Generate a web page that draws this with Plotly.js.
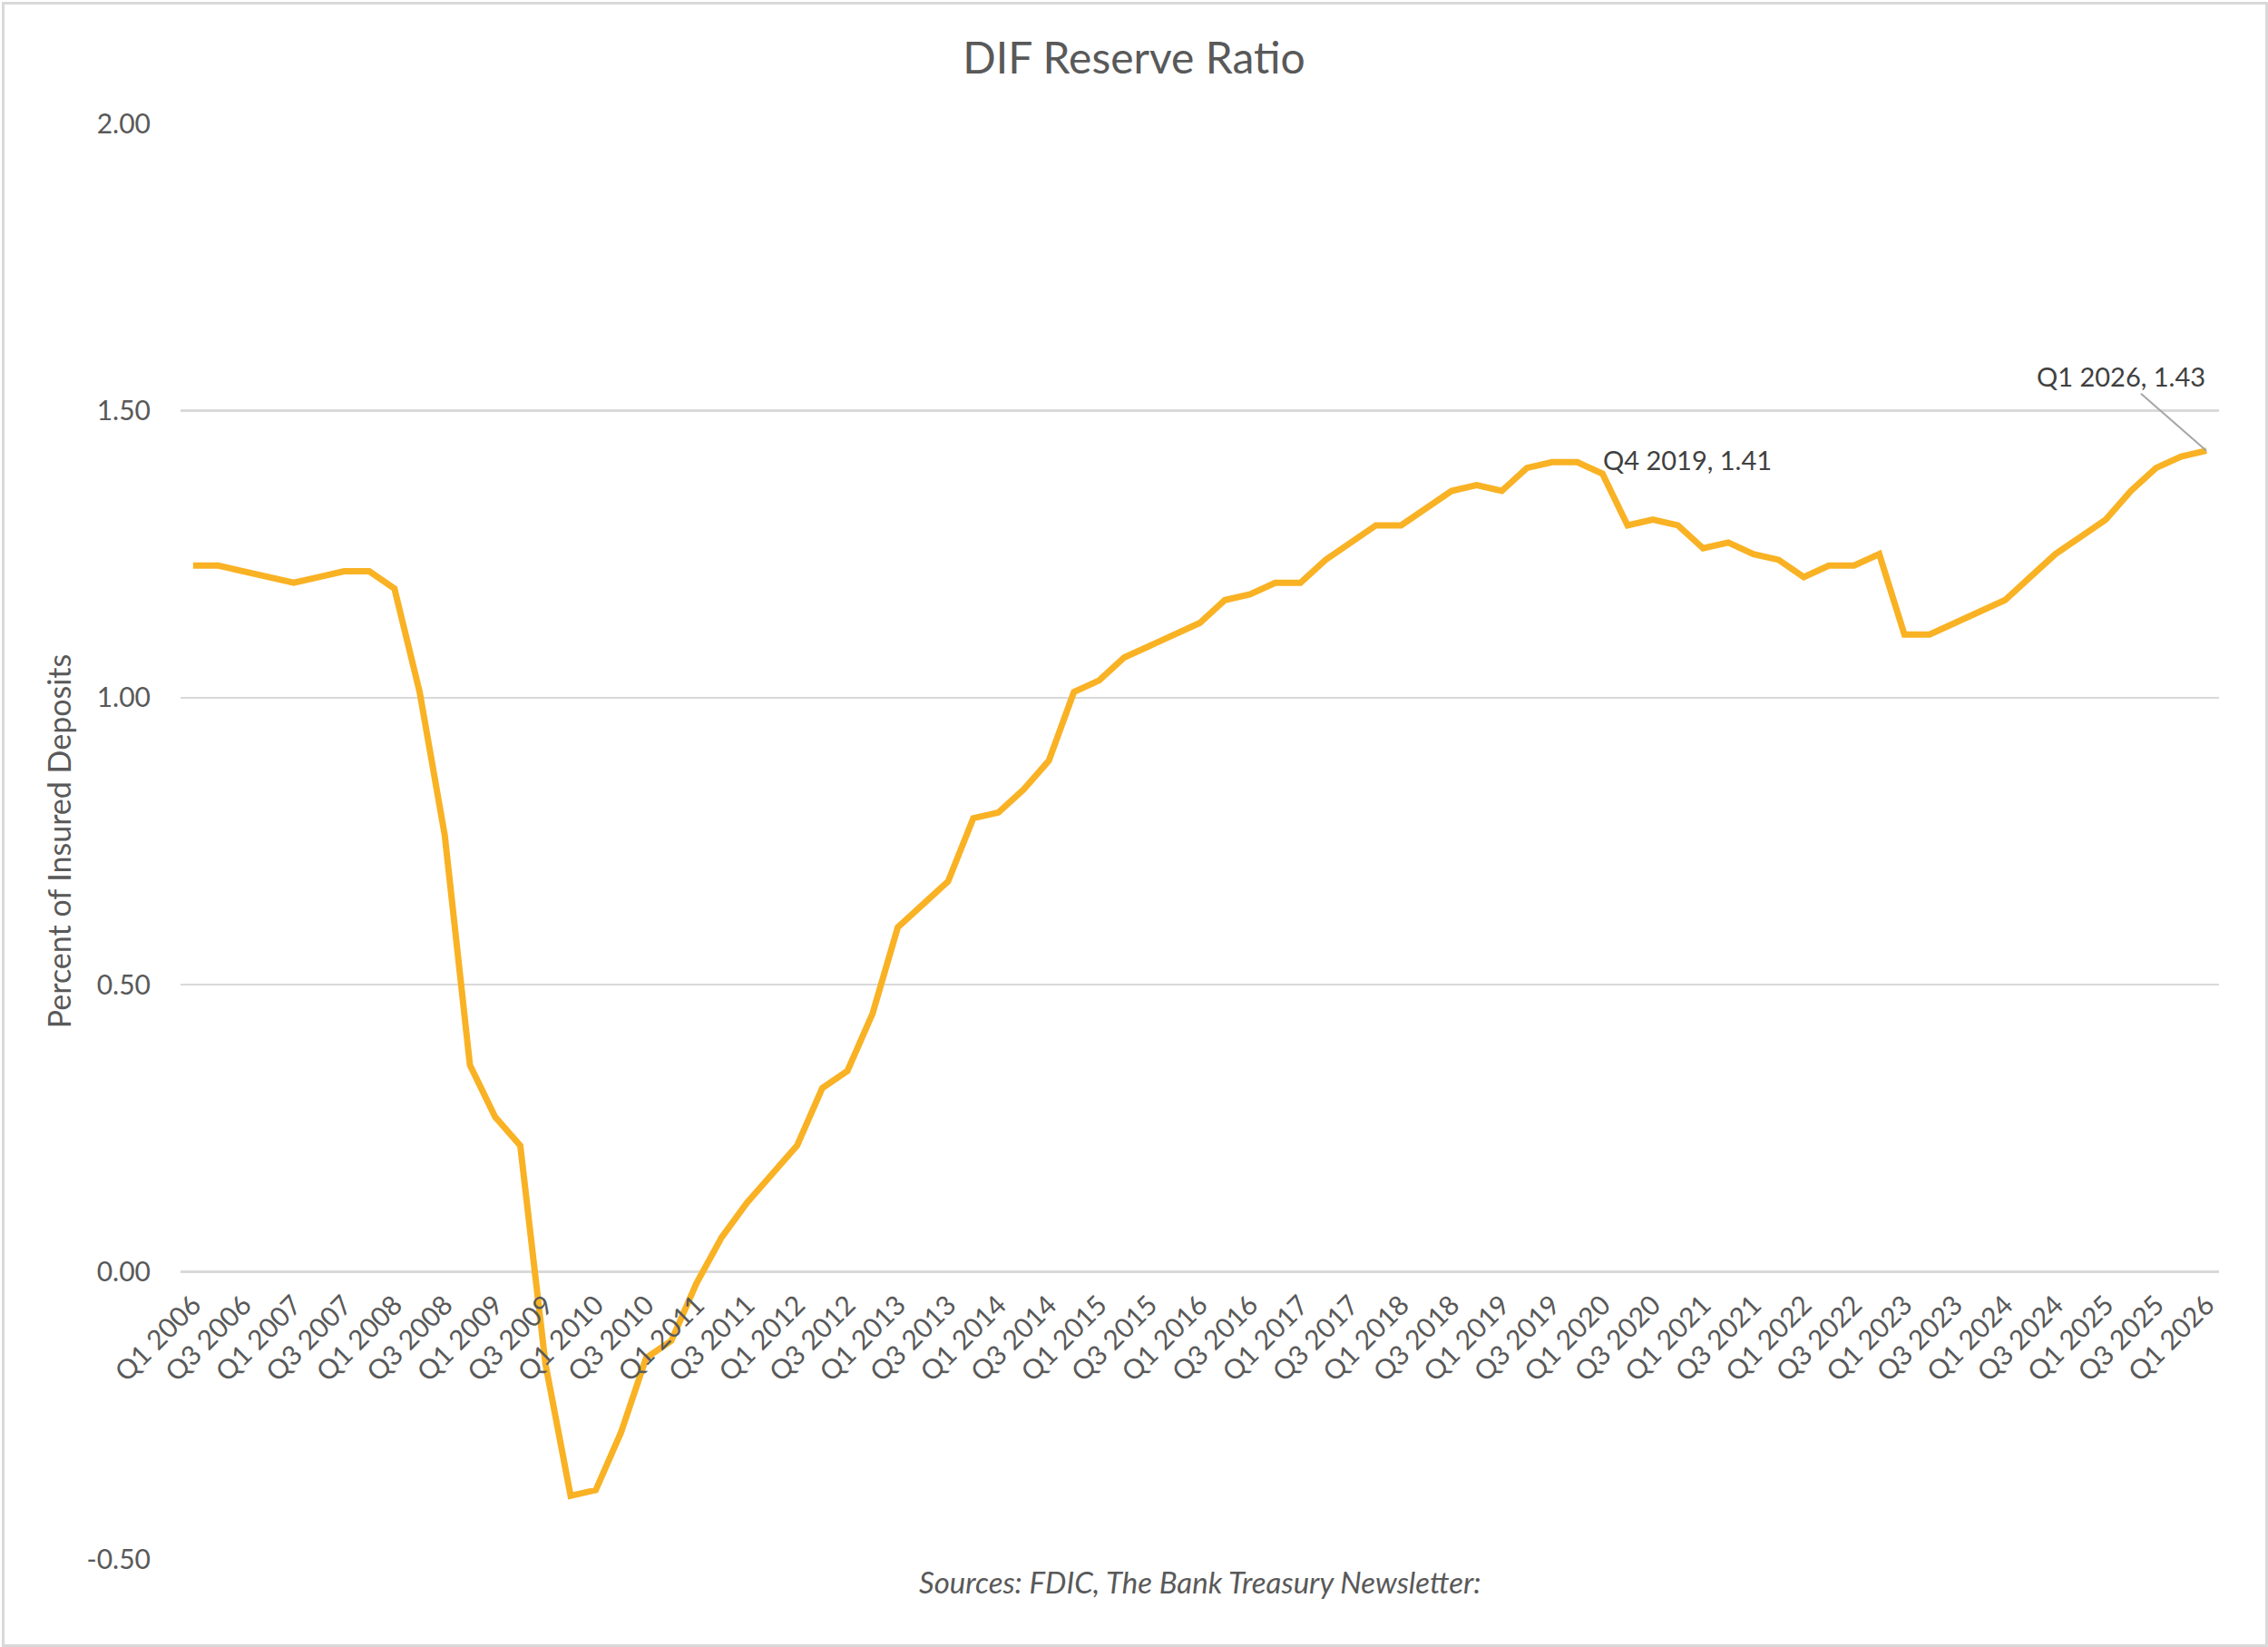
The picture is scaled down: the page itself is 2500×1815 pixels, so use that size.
<!DOCTYPE html>
<html>
<head>
<meta charset="utf-8">
<script src="https://cdn.plot.ly/plotly-3.0.1.min.js"></script>
<style>
  html, body { margin: 0; padding: 0; background: #ffffff; }
  #chart { width: 2500px; height: 1815px; }
  #frame { position: absolute; left: 2px; top: 2px; width: 2492px; height: 1807px;
           border: 3px solid #d9d9d9; pointer-events: none; }
</style>
</head>
<body>
<div id="chart"></div>
<div id="frame"></div>
<script>
const quarters = [
  "Q1 2006","Q2 2006","Q3 2006","Q4 2006",
  "Q1 2007","Q2 2007","Q3 2007","Q4 2007",
  "Q1 2008","Q2 2008","Q3 2008","Q4 2008",
  "Q1 2009","Q2 2009","Q3 2009","Q4 2009",
  "Q1 2010","Q2 2010","Q3 2010","Q4 2010",
  "Q1 2011","Q2 2011","Q3 2011","Q4 2011",
  "Q1 2012","Q2 2012","Q3 2012","Q4 2012",
  "Q1 2013","Q2 2013","Q3 2013","Q4 2013",
  "Q1 2014","Q2 2014","Q3 2014","Q4 2014",
  "Q1 2015","Q2 2015","Q3 2015","Q4 2015",
  "Q1 2016","Q2 2016","Q3 2016","Q4 2016",
  "Q1 2017","Q2 2017","Q3 2017","Q4 2017",
  "Q1 2018","Q2 2018","Q3 2018","Q4 2018",
  "Q1 2019","Q2 2019","Q3 2019","Q4 2019",
  "Q1 2020","Q2 2020","Q3 2020","Q4 2020",
  "Q1 2021","Q2 2021","Q3 2021","Q4 2021",
  "Q1 2022","Q2 2022","Q3 2022","Q4 2022",
  "Q1 2023","Q2 2023","Q3 2023","Q4 2023",
  "Q1 2024","Q2 2024","Q3 2024","Q4 2024",
  "Q1 2025","Q2 2025","Q3 2025","Q4 2025",
  "Q1 2026"
];

const reserveRatio = [
  1.23, 1.23, 1.22, 1.21,
  1.20, 1.21, 1.22, 1.22,
  1.19, 1.01, 0.76, 0.36,
  0.27, 0.22, -0.16, -0.39,
  -0.38, -0.28, -0.15, -0.12,
  -0.02, 0.06, 0.12, 0.17,
  0.22, 0.32, 0.35, 0.45,
  0.60, 0.64, 0.68, 0.79,
  0.80, 0.84, 0.89, 1.01,
  1.03, 1.07, 1.09, 1.11,
  1.13, 1.17, 1.18, 1.20,
  1.20, 1.24, 1.27, 1.30,
  1.30, 1.33, 1.36, 1.37,
  1.36, 1.40, 1.41, 1.41,
  1.39, 1.30, 1.31, 1.30,
  1.26, 1.27, 1.25, 1.24,
  1.21, 1.23, 1.23, 1.25,
  1.11, 1.11, 1.13, 1.15,
  1.17, 1.21, 1.25, 1.28,
  1.31, 1.36, 1.40, 1.42,
  1.43
];

const xTickLabels = quarters.filter((q, i) => i % 2 === 0);
const yTickVals = [-0.5, 0, 0.5, 1.0, 1.5, 2.0];
const yTickText = ["-0.50", "0.00", "0.50", "1.00", "1.50", "2.00"];

const calloutPeak = { x: "Q4 2019", y: 1.41, text: "Q4 2019, 1.41" };
const calloutLast = { x: "Q1 2026", y: 1.43, text: "Q1 2026, 1.43" };

const FONT = "Lato, 'Open Sans', 'DejaVu Sans', sans-serif";
const GREY = "#595959";

const trace = {
  type: "scatter",
  mode: "lines",
  x: quarters,
  y: reserveRatio,
  line: { color: "#F9B224", width: 7 },
  hoverinfo: "x+y",
  showlegend: false
};

const layout = {
  width: 2500,
  height: 1815,
  paper_bgcolor: "#ffffff",
  plot_bgcolor: "#ffffff",
  margin: { l: 199, r: 54, t: 136, b: 97, pad: 0 },
  title: {
    text: "DIF Reserve Ratio",
    x: 0.5, xref: "container", xanchor: "center",
    y: 1 - 64 / 1815, yref: "container", yanchor: "middle",
    font: { family: FONT, size: 48, color: GREY }
  },
  xaxis: {
    type: "category",
    categoryorder: "array",
    categoryarray: quarters,
    range: [-0.5, quarters.length - 0.5],
    anchor: "free",
    position: 0.2,
    tickmode: "array",
    tickvals: xTickLabels,
    ticktext: xTickLabels,
    tickangle: -45,
    ticks: "outside",
    ticklen: 6,
    tickcolor: "rgba(0,0,0,0)",
    showgrid: false,
    showline: false,
    zeroline: false,
    tickfont: { family: FONT, size: 30, color: GREY },
    fixedrange: true
  },
  yaxis: {
    range: [-0.5, 2.0],
    tickmode: "array",
    tickvals: yTickVals,
    ticktext: yTickText,
    showgrid: true,
    gridcolor: "#d9d9d9",
    gridwidth: 2.5,
    zeroline: false,
    showline: false,
    ticks: "outside",
    ticklen: 26,
    tickcolor: "rgba(0,0,0,0)",
    tickfont: { family: FONT, size: 30, color: GREY },
    title: {
      text: "Percent of Insured Deposits",
      standoff: 6,
      font: { family: FONT, size: 34, color: GREY }
    },
    automargin: false,
    fixedrange: true
  },
  annotations: [
    {
      x: calloutPeak.x, y: calloutPeak.y, xref: "x", yref: "y",
      text: calloutPeak.text, showarrow: false,
      xanchor: "left", yanchor: "middle", xshift: 26, yshift: 3,
      font: { family: FONT, size: 29, color: "#404040" }
    },
    {
      x: calloutLast.x, y: calloutLast.y, xref: "x", yref: "y",
      text: calloutLast.text, showarrow: true,
      arrowhead: 0, arrowwidth: 2, arrowcolor: "#a6a6a6",
      ax: -94, ay: -82, standoff: 0,
      font: { family: FONT, size: 29, color: "#404040" }
    },
    {
      x: 0.5, y: 0, xref: "paper", yref: "paper",
      text: "<i>Sources: FDIC, The Bank Treasury Newsletter:</i>",
      showarrow: false, xanchor: "center", yanchor: "middle", yshift: -25,
      font: { family: FONT, size: 33, color: GREY }
    }
  ]
};

Plotly.newPlot("chart", [trace], layout, { displayModeBar: false, staticPlot: true });
</script>
</body>
</html>
